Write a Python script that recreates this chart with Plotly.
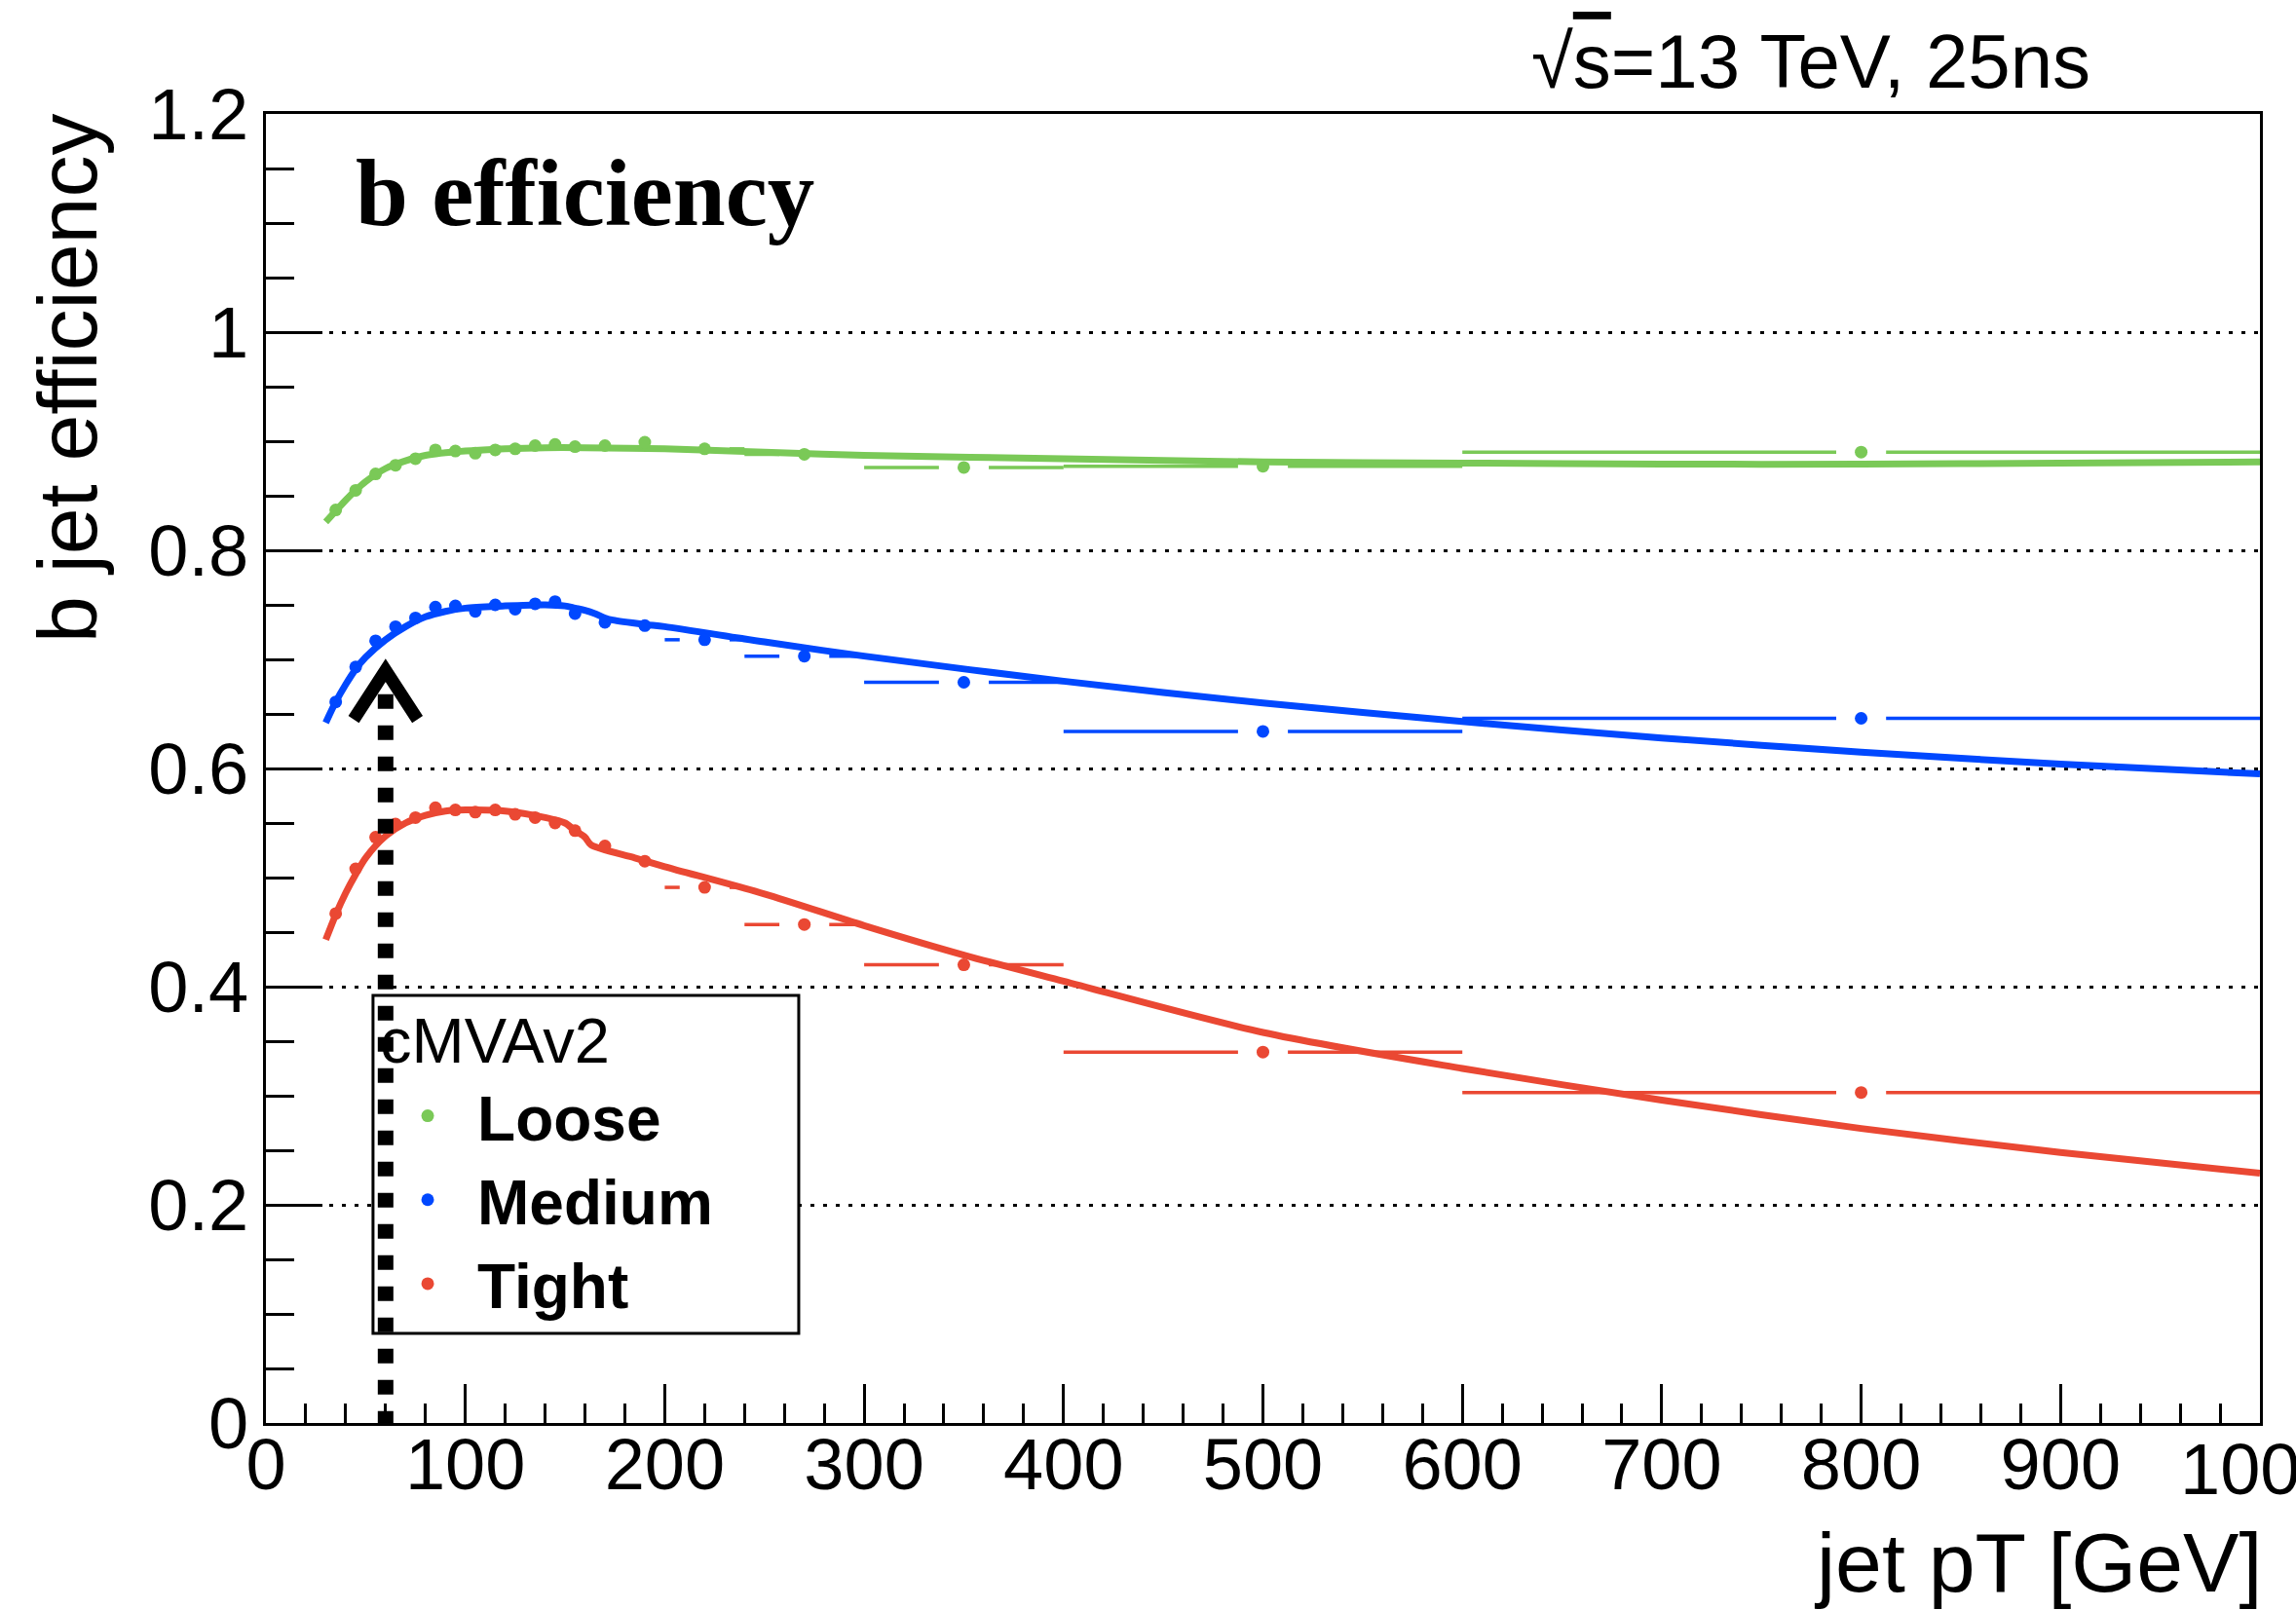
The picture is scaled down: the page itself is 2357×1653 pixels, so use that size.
import plotly.graph_objects as go

# ---------------- data ----------------
# jet pT bins (GeV): centres and edges
pt = [35, 45, 55, 65, 75, 85, 95, 105, 115, 125, 135, 145, 155, 170, 190, 220, 270, 350, 500, 800]
pt_lo = [30, 40, 50, 60, 70, 80, 90, 100, 110, 120, 130, 140, 150, 160, 180, 200, 240, 300, 400, 600]
pt_hi = [40, 50, 60, 70, 80, 90, 100, 110, 120, 130, 140, 150, 160, 180, 200, 240, 300, 400, 600, 1000]

# measured b-tag efficiency per working point
eff_loose = [0.837, 0.855, 0.870, 0.878, 0.884, 0.892, 0.891, 0.889, 0.892, 0.893,
             0.896, 0.897, 0.895, 0.896, 0.899, 0.893, 0.888, 0.876, 0.877, 0.890]
eff_medium = [0.661, 0.693, 0.717, 0.730, 0.738, 0.748, 0.749, 0.744, 0.750, 0.746,
              0.751, 0.753, 0.742, 0.734, 0.731, 0.718, 0.703, 0.679, 0.634, 0.646]
eff_tight = [0.467, 0.508, 0.537, 0.549, 0.555, 0.564, 0.562, 0.560, 0.562, 0.558,
             0.555, 0.550, 0.543, 0.529, 0.515, 0.491, 0.457, 0.420, 0.340, 0.303]

# fitted parametrisations
fit_pt_loose = [30, 35, 40, 45, 50, 60, 70, 80, 100, 120, 140, 160, 200, 250, 300,
                400, 500, 600, 700, 800, 900, 1000]
fit_loose = [0.826, 0.836, 0.846, 0.855, 0.863, 0.875, 0.882, 0.887, 0.891, 0.893, 0.894,
             0.894, 0.893, 0.890, 0.887, 0.884, 0.881, 0.880, 0.879, 0.879, 0.880, 0.881]

fit_pt_medium = [30, 35, 40, 45, 50, 60, 70, 80, 90, 100, 120, 140, 150, 155, 160, 165,
                 170, 174, 190, 200, 250, 300, 400, 500, 600, 700, 800, 900, 1000]
fit_medium = [0.642, 0.661, 0.677, 0.691, 0.702, 0.718, 0.730, 0.739, 0.744, 0.747, 0.749,
              0.750, 0.749, 0.747, 0.745, 0.742, 0.738, 0.736, 0.732, 0.730, 0.716, 0.703,
              0.680, 0.660, 0.643, 0.628, 0.615, 0.604, 0.595]

fit_pt_tight = [30, 35, 40, 45, 50, 60, 70, 80, 90, 100, 120, 140, 150, 155, 160, 163,
                185, 200, 250, 300, 350, 400, 500, 600, 700, 800, 900, 1000]
fit_tight = [0.443, 0.466, 0.486, 0.503, 0.518, 0.538, 0.550, 0.557, 0.561, 0.562, 0.561,
             0.555, 0.550, 0.543, 0.537, 0.530, 0.518, 0.510, 0.485, 0.456, 0.429, 0.405,
             0.358, 0.325, 0.296, 0.270, 0.248, 0.229]

working_points = ["Loose", "Medium", "Tight"]
colors = {"Loose": "rgb(122,201,87)", "Medium": "rgb(0,72,255)", "Tight": "rgb(234,72,51)"}

# annotation arrow (pT threshold)
arrow_pt = 60
arrow_top = 0.69

# last x tick label (sits at the right frame edge)
x_last_tick = 1000

# ---------------- styling ----------------
FONT = "Liberation Sans, Arial, Helvetica, sans-serif"
ERR_GAP = 12.5          # GeV left open around each marker on the x error bars
MARKER_SIZE = 13
FIT_WIDTH = 7
ERR_WIDTH = 3.5


def bar_segments(xc, lo, hi, y, gap):
    xs, ys = [], []
    for c, a, b, v in zip(xc, lo, hi, y):
        if c - gap > a:
            xs += [a, c - gap, None]
            ys += [v, v, None]
        if c + gap < b:
            xs += [c + gap, b, None]
            ys += [v, v, None]
    return xs, ys


series = {
    "Loose": (eff_loose, fit_pt_loose, fit_loose),
    "Medium": (eff_medium, fit_pt_medium, fit_medium),
    "Tight": (eff_tight, fit_pt_tight, fit_tight),
}

fig = go.Figure()

for wp in working_points:
    eff, fx, fy = series[wp]
    col = colors[wp]
    fig.add_trace(go.Scatter(x=fx, y=fy, mode="lines",
                             line=dict(color=col, width=FIT_WIDTH, shape="spline", smoothing=0.8),
                             showlegend=False, hoverinfo="skip"))
    ex, ey = bar_segments(pt, pt_lo, pt_hi, eff, ERR_GAP)
    fig.add_trace(go.Scatter(x=ex, y=ey, mode="lines",
                             line=dict(color=col, width=ERR_WIDTH),
                             showlegend=False, hoverinfo="skip"))

for wp in working_points:
    eff, _, _ = series[wp]
    fig.add_trace(go.Scatter(x=pt, y=eff, mode="markers", name=f"<b>{wp}</b>",
                             marker=dict(color=colors[wp], size=MARKER_SIZE, line=dict(width=0))))

# legend frame (white fill), drawn under the arrow
fig.add_shape(type="rect", xref="paper", yref="paper",
              x0=0.0537, x1=0.2672, y0=0.0685, y1=0.3266,
              fillcolor="white", line=dict(color="black", width=3), layer="above")

# dotted arrow marking the pT threshold
fig.add_shape(type="line", xref="x", yref="y",
              x0=arrow_pt, x1=arrow_pt, y0=arrow_top - 0.022, y1=0,
              line=dict(color="black", width=16, dash="15px,17px"), layer="above")
fig.add_shape(type="path", xref="x", yref="y",
              path=f"M {arrow_pt - 16},{arrow_top - 0.045} L {arrow_pt},{arrow_top} "
                   f"L {arrow_pt + 16},{arrow_top - 0.045}",
              line=dict(color="black", width=13), layer="above")

axis_common = dict(showline=True, linewidth=3, linecolor="black", mirror=True,
                   ticks="inside", tickwidth=3, tickcolor="black",
                   tickfont=dict(family=FONT, size=74, color="black"),
                   zeroline=False, automargin=False)

fig.update_xaxes(range=[0, 1000], dtick=100, tick0=0, ticklen=40, showgrid=False,
                 ticklabelstandoff=-24,
                 minor=dict(dtick=20, tick0=0, ticks="inside", ticklen=20, tickwidth=3,
                            tickcolor="black", showgrid=False),
                 **axis_common)
fig.update_yaxes(range=[0, 1.2], dtick=0.2, tick0=0, ticklen=58,
                 showgrid=True, gridcolor="black", gridwidth=3, griddash="4px,9px",
                 ticklabelstandoff=0,
                 minor=dict(dtick=0.05, tick0=0, ticks="inside", ticklen=29, tickwidth=3,
                            tickcolor="black", showgrid=False),
                 **axis_common)

annotations = [
    dict(text=str(x_last_tick), xref="x", yref="paper", x=x_last_tick, y=0,
         xanchor="center", yanchor="middle", yshift=-47, showarrow=False,
         font=dict(family=FONT, size=74, color="black")),
    dict(text="jet pT [GeV]", xref="paper", yref="paper", x=1, y=0, xanchor="right",
         yanchor="middle", xshift=4, yshift=-143, showarrow=False,
         font=dict(family=FONT, size=86, color="black")),
    dict(text="b jet efficiency", xref="paper", yref="paper", x=0, y=1, xanchor="center",
         yanchor="middle", xshift=-204, yshift=-272, textangle=-90, showarrow=False,
         font=dict(family=FONT, size=86, color="black")),
    dict(text="√<span style='text-decoration:overline'>s</span>=13 TeV, 25ns",
         xref="paper", yref="paper", x=0.916, y=1, xanchor="right", yanchor="middle",
         yshift=54, showarrow=False, font=dict(family=FONT, size=78, color="black")),
    dict(text="<b>b efficiency</b>", xref="paper", yref="paper", x=0.0439, y=1,
         xanchor="left", yanchor="middle", yshift=-81, showarrow=False,
         font=dict(family="Liberation Serif, Times New Roman, serif", size=97, color="black")),
    dict(text="cMVAv2", xref="paper", yref="paper", x=0.0562, y=0.3266,
         xanchor="left", yanchor="middle", yshift=-46, showarrow=False,
         font=dict(family=FONT, size=65, color="black")),
]

fig.update_layout(
    template="none",
    width=2357, height=1653,
    margin=dict(l=273, r=37, t=117, b=192, pad=0, autoexpand=False),
    plot_bgcolor="white", paper_bgcolor="white",
    font=dict(family=FONT, color="black"),
    annotations=annotations,
    showlegend=True,
    legend=dict(x=0.0562, y=0.2705, xanchor="left", yanchor="top",
                bgcolor="rgba(0,0,0,0)", borderwidth=0,
                itemwidth=92, traceorder="normal",
                font=dict(family=FONT, size=64, color="black")),
)

fig.write_html("out.html")
